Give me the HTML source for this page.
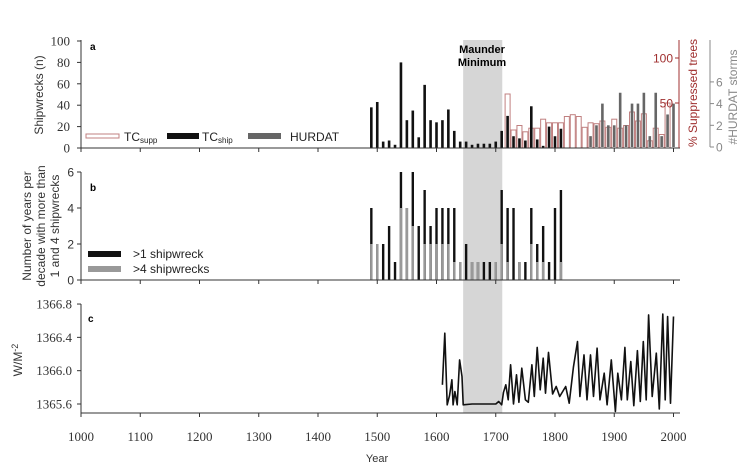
<!DOCTYPE html>
<html><head><meta charset="utf-8">
<style>
html,body{margin:0;padding:0;background:#fff;}
svg{display:block;font-family:"Liberation Sans",sans-serif;}
.serif{font-family:"Liberation Serif",serif;}
</style></head>
<body>
<svg id="chart" width="754" height="469" viewBox="0 0 754 469"></svg>
<script>
// ---- data ----
const decades = [1490,1500,1510,1520,1530,1540,1550,1560,1570,1580,1590,1600,1610,1620,1630,1640,1650,1660,1670,1680,1690,1700,1710,1720,1730,1740,1750,1760,1770,1780,1790,1800,1810];
const shipwrecks = [38,43,6,7,3,80,26,35,10,59,26,24,26,36,16,6,6,3,4,4,4,6,16,30,11,9,7,39,8,2,20,11,18];
const suppYears = [1720,1730,1740,1750,1760,1770,1780,1790,1800,1810,1820,1830,1840,1850,1860,1870,1880,1890,1900,1910,1920,1930,1940,1950,1960,1970,1980,1990];
const suppPct = [60,20,25,18,22,22,32,28,28,28,35,37,35,23,28,27,30,23,32,22,25,40,30,38,8,22,15,50];
const hurdatYears = [1860,1870,1880,1890,1900,1910,1920,1930,1940,1950,1960,1970,1980,1990,2000];
const hurdatStorms = [1,2,4,2,2,5,2,4,4,5,1,5,1,3,4];
const yearsOver1 = [4,2,2,3,1,6,4,6,3,5,3,4,4,4,4,1,2,1,1,1,1,1,5,4,4,1,1,4,2,3,1,4,5];
const yearsOver4 = [2,2,0,0,0,4,4,3,0,2,2,2,2,2,1,1,0,1,1,0,0,1,2,1,0,1,0,2,1,1,0,0,1];
const tsiYears = [1610,1614,1618,1622,1626,1628,1631,1635,1639,1643,1645,1660,1680,1700,1705,1710,1713,1717,1721,1725,1730,1735,1739,1744,1750,1755,1761,1765,1770,1775,1780,1784,1789,1796,1802,1808,1818,1824,1831,1838,1842,1849,1854,1860,1865,1871,1876,1883,1888,1895,1902,1906,1912,1918,1922,1928,1933,1939,1944,1949,1954,1958,1964,1971,1976,1982,1986,1990,1995,2000];
const tsiValues = [1365.83,1366.45,1365.59,1365.70,1365.89,1365.59,1365.75,1365.59,1366.13,1365.93,1365.59,1365.60,1365.60,1365.60,1365.63,1365.59,1365.74,1365.83,1365.65,1366.07,1365.60,1365.95,1365.62,1366.03,1365.65,1365.62,1366.07,1365.69,1366.28,1365.77,1366.15,1365.73,1366.22,1365.72,1365.81,1365.69,1365.81,1365.61,1366.04,1366.35,1365.69,1366.19,1365.65,1366.19,1365.69,1366.27,1365.65,1365.97,1365.59,1366.13,1365.51,1365.97,1365.65,1366.28,1365.65,1366.11,1365.58,1366.24,1365.63,1366.35,1365.65,1366.67,1365.69,1366.21,1365.54,1366.68,1365.65,1366.65,1365.61,1366.65];
const xTicks = [1000,1100,1200,1300,1400,1500,1600,1700,1800,1900,2000];
const aTicks = [0,20,40,60,80,100];
const bTicks = [0,2,4,6];
const cTicks = [1365.6,1366.0,1366.4,1366.8];
const pctTicks = [50,100];
const stormTicks = [0,2,4,6];

// ---- scales ----
const X = y => 81 + (y-1000)*0.5925;
const YA = v => 148 - v*1.07;
const YB = v => 280 - v*18;
const YC = v => 404 - (v-1365.6)*83.3;
const YP = v => 148 - v*0.9;
const YS = v => 147 - v*10.85;

const svg = document.getElementById('chart');
const NS = 'http://www.w3.org/2000/svg';
function mk(tag, attrs, parent){
  const e = document.createElementNS(NS, tag);
  for (const k in attrs) e.setAttribute(k, attrs[k]);
  (parent||svg).appendChild(e); return e;
}
function txt(s, attrs, parent){ const t = mk('text', attrs, parent); t.textContent = s; return t; }

// Maunder shading
let g = mk('rect',{x:X(1645),y:40,width:X(1711)-X(1645),height:373,fill:'#d6d6d6'});


g = txt('Maunder',{x:482,y:53,'text-anchor':'middle','font-size':11,'font-weight':'bold'});


g = txt('Minimum',{x:482,y:66,'text-anchor':'middle','font-size':11,'font-weight':'bold'});



// ---- panel a ----
const pa = mk('g',{});


suppYears.forEach((yr,i)=>{
  const r = mk('rect',{x:X(yr)-2.5,y:YP(suppPct[i]),width:5,height:148-YP(suppPct[i]),fill:'#fff',stroke:'#c08080','stroke-width':1},pa);
  
  
});
hurdatYears.forEach((yr,i)=>{
  const r = mk('rect',{x:X(yr)-1.3,y:YS(hurdatStorms[i]),width:2.6,height:147-YS(hurdatStorms[i]),fill:'#666'},pa);
  
  
});
decades.forEach((yr,i)=>{
  const r = mk('rect',{x:X(yr)-1.3,y:YA(shipwrecks[i]),width:2.6,height:148-YA(shipwrecks[i]),fill:'#111'},pa);
  
  
});
mk('line',{x1:81,y1:40,x2:81,y2:148,stroke:'#333'},pa);
mk('line',{x1:81,y1:148,x2:680,y2:148,stroke:'#333'},pa);
aTicks.forEach(v=>{
  mk('line',{x1:77,y1:YA(v),x2:81,y2:YA(v),stroke:'#333'},pa);
  const t = txt(v,{x:70,y:YA(v)+4.5,'text-anchor':'end','font-size':13,class:'serif',fill:'#333'},pa);
  
  
});
xTicks.forEach(v=>mk('line',{x1:X(v),y1:148,x2:X(v),y2:152,stroke:'#333'},pa));
txt('a',{x:90,y:50,'font-size':10,'font-weight':'bold'},pa);
g = txt('Shipwrecks (n)',{transform:'translate(43,95) rotate(-90)','text-anchor':'middle','font-size':12,fill:'#333'},pa);


// right axes
mk('line',{x1:679,y1:40,x2:679,y2:148,stroke:'#a03030'},pa);
pctTicks.forEach(v=>{
  mk('line',{x1:675,y1:YP(v),x2:679,y2:YP(v),stroke:'#a03030'},pa);
  txt(v,{x:673,y:YP(v)+4.5,'text-anchor':'end','font-size':12,fill:'#a03030'},pa);
});
g = txt('% Suppressed trees',{transform:'translate(697,93) rotate(-90)','text-anchor':'middle','font-size':12,fill:'#a03030'},pa);


mk('line',{x1:710,y1:40,x2:710,y2:147,stroke:'#888'},pa);
stormTicks.forEach(v=>{
  mk('line',{x1:710,y1:YS(v),x2:714,y2:YS(v),stroke:'#888'},pa);
  txt(v,{x:716,y:YS(v)+4.5,'font-size':12,fill:'#888'},pa);
});
g = txt('#HURDAT storms',{transform:'translate(737,97) rotate(-90)','text-anchor':'middle','font-size':12,fill:'#888'},pa);


// legend a
const la = mk('g',{},pa);


mk('rect',{x:86,y:134,width:33,height:4,fill:'#fff',stroke:'#c08080'},la);
const t1 = txt('TC',{x:124,y:141,'font-size':12,fill:'#222'},la);
const s1 = mk('tspan',{'font-size':8,dy:2},t1); s1.textContent='supp';
mk('rect',{x:167,y:133,width:32,height:6,fill:'#111'},la);
const t2 = txt('TC',{x:202,y:141,'font-size':12,fill:'#222'},la);
const s2 = mk('tspan',{'font-size':8,dy:2},t2); s2.textContent='ship';
mk('rect',{x:248,y:133,width:33,height:6,fill:'#666'},la);
txt('HURDAT',{x:290,y:141,'font-size':12,fill:'#222'},la);

// ---- panel b ----
const pb = mk('g',{});


decades.forEach((yr,i)=>{
  const r = mk('rect',{x:X(yr)-1.2,y:YB(yearsOver1[i]),width:2.4,height:280-YB(yearsOver1[i]),fill:'#111'},pb);
  
  
  const q = mk('rect',{x:X(yr)-1.2,y:YB(yearsOver4[i]),width:2.4,height:280-YB(yearsOver4[i]),fill:'#999'},pb);
  
  
});
mk('line',{x1:81,y1:172,x2:81,y2:280,stroke:'#333'},pb);
mk('line',{x1:81,y1:280,x2:680,y2:280,stroke:'#333'},pb);
bTicks.forEach(v=>{
  mk('line',{x1:77,y1:YB(v),x2:81,y2:YB(v),stroke:'#333'},pb);
  txt(v,{x:74,y:YB(v)+4.5,'text-anchor':'end','font-size':12,fill:'#333'},pb);
});
xTicks.forEach(v=>mk('line',{x1:X(v),y1:280,x2:X(v),y2:284,stroke:'#333'},pb));
txt('b',{x:90,y:191,'font-size':10,'font-weight':'bold'},pb);
g = txt('Number of years per',{transform:'translate(31,226) rotate(-90)','text-anchor':'middle','font-size':12,fill:'#333'},pb);


txt('decade with more than',{transform:'translate(45,226) rotate(-90)','text-anchor':'middle','font-size':12,fill:'#333'},pb);
txt('1 and 4 shipwrecks',{transform:'translate(59,226) rotate(-90)','text-anchor':'middle','font-size':12,fill:'#333'},pb);
const lb = mk('g',{},pb);


mk('rect',{x:88,y:251,width:33,height:6,fill:'#111'},lb);
txt('>1 shipwreck',{x:133,y:258,'font-size':12,fill:'#222'},lb);
mk('rect',{x:88,y:266,width:33,height:6,fill:'#999'},lb);
txt('>4 shipwrecks',{x:133,y:273,'font-size':12,fill:'#222'},lb);

// ---- panel c ----
const pc = mk('g',{});


const d = tsiYears.map((yr,i)=>(i?'L':'M')+X(yr).toFixed(1)+','+YC(tsiValues[i]).toFixed(1)).join(' ');
g = mk('path',{d:d,fill:'none',stroke:'#111','stroke-width':1.6,'stroke-linejoin':'round'},pc);


mk('line',{x1:81,y1:304,x2:81,y2:413,stroke:'#333'},pc);
mk('line',{x1:81,y1:413,x2:680,y2:413,stroke:'#333'},pc);
cTicks.forEach(v=>{
  mk('line',{x1:77,y1:YC(v),x2:81,y2:YC(v),stroke:'#333'},pc);
  txt(v.toFixed(1),{x:72,y:YC(v)+4.5,'text-anchor':'end','font-size':13,class:'serif',fill:'#333'},pc);
});
xTicks.forEach(v=>{
  mk('line',{x1:X(v),y1:413,x2:X(v),y2:417,stroke:'#333'},pc);
  const t = txt(v,{x:X(v),y:441,'text-anchor':'middle','font-size':13,class:'serif',fill:'#333'},pc);
  
  
});
txt('c',{x:88,y:322,'font-size':10,'font-weight':'bold'},pc);
g = txt('W/M',{transform:'translate(22,360) rotate(-90)','text-anchor':'middle','font-size':12,fill:'#333'},pc);
const sp = mk('tspan',{'font-size':9,dy:-4},g); sp.textContent='-2';


g = txt('Year',{x:377,y:462,'text-anchor':'middle','font-size':11,fill:'#333'});


</script>
</body></html>
